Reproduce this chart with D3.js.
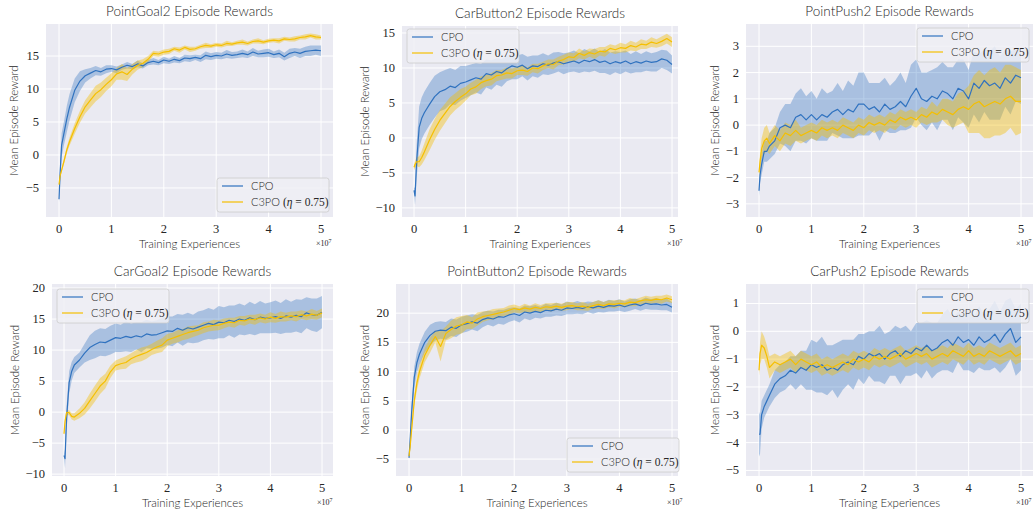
<!DOCTYPE html>
<head>
<meta charset="utf-8">
<title>Episode Rewards</title>
<script src="https://d3js.org/d3.v7.min.js"></script>
<style>
  body { margin: 0; background: #fff; }
  .title { font-family: Lato, sans-serif; font-weight: 300; font-size: 13.5px; fill: #262626; }
  .axlabel { font-family: Lato, sans-serif; font-weight: 300; font-size: 11.5px; fill: #262626; }
  .tick { font-family: "Liberation Serif", serif; font-size: 12.5px; fill: #262626; }
  .leg { font-family: Lato, sans-serif; font-weight: 300; font-size: 11px; fill: #262626; }
  .legm { font-family: "Liberation Serif", serif; font-size: 11.5px; fill: #262626; }
</style>
</head>
<body>
<script>

  // training experiences, in units of 1e7
  let X = [0,0.02,0.05,0.1,0.15,0.2,0.3,0.4,0.5,0.6,0.7,0.8,0.9,1.0,
    1.1,1.2,1.3,1.4,1.5,1.6,1.7,1.8,1.9,2.0,
    2.1,2.2,2.3,2.4,2.5,2.6,2.7,2.8,2.9,3.0,
    3.1,3.2,3.3,3.4,3.5,3.6,3.7,3.8,3.9,4.0,
    4.1,4.2,4.3,4.4,4.5,4.6,4.7,4.8,4.9,5.0];

  let series_names = ["CPO", "C3PO"];

  // PointGoal2
  let pointGoal2_cpo = [-6.7,-3.0,1.5,3.5,5.5,7.2,9.8,11.2,12.0,12.4,12.8,12.6,13.0,13.1,
    12.9,13.3,13.6,13.4,13.8,13.5,14.0,14.2,14.0,14.4,
    14.2,14.5,14.3,14.7,14.6,14.8,14.6,15.1,14.9,15.1,
    15.0,15.3,15.1,15.2,15.4,15.2,15.6,15.3,15.4,15.5,
    15.2,15.4,14.9,15.4,15.6,15.4,15.7,15.8,15.9,15.8];
  let pointGoal2_cpo_sd = [0.5,1.5,1.8,1.8,2.0,2.0,1.8,1.5,1.0,0.8,0.7,0.6,0.6,0.5,
    0.5,0.4,0.5,0.4,0.5,0.4,0.4,0.5,0.4,0.5,
    0.4,0.5,0.4,0.5,0.5,0.4,0.5,0.6,0.5,0.5,
    0.5,0.6,0.5,0.5,0.6,0.5,0.6,0.5,0.6,0.6,
    0.5,0.6,0.6,0.7,0.6,0.7,0.7,0.8,0.7,0.8];
  let pointGoal2_c3po = [-4.5,-3.2,-2.3,-0.8,0.8,2.0,4.0,5.8,7.3,8.3,9.3,9.9,10.7,11.4,
    12.3,12.6,12.2,13.0,13.6,13.9,14.5,15.4,15.3,15.6,
    15.7,16.1,15.9,16.3,16.0,16.1,16.4,16.6,16.5,16.7,
    16.6,16.9,16.8,17.0,17.1,16.9,17.2,17.3,17.1,17.3,
    17.4,17.3,17.6,17.5,17.6,17.8,17.9,18.1,17.9,17.8];
  let pointGoal2_c3po_sd = [0.3,0.3,0.3,0.4,0.5,0.6,0.8,0.9,1.0,1.1,1.2,1.1,1.0,1.0,
    0.9,1.2,1.0,0.8,0.7,0.6,0.5,0.4,0.4,0.4,
    0.4,0.3,0.4,0.3,0.4,0.3,0.3,0.4,0.3,0.3,
    0.3,0.4,0.3,0.3,0.4,0.3,0.3,0.4,0.3,0.3,
    0.3,0.4,0.3,0.3,0.4,0.3,0.4,0.3,0.4,0.3];

  // CarButton2
  let carButton2_cpo = [-7.5,-8.3,-3.5,1.5,2.8,3.6,4.8,5.9,6.6,6.9,7.4,7.2,7.8,8.0,
    8.3,8.6,8.4,9.2,9.0,9.5,9.3,9.9,10.3,10.1,
    10.4,9.9,10.3,10.2,10.6,10.4,10.7,10.9,10.6,10.8,
    11.0,10.7,11.1,10.9,11.2,10.8,11.0,10.6,10.9,10.7,
    11.0,10.6,10.9,10.7,11.0,10.8,10.9,11.3,11.1,10.5];
  let carButton2_cpo_sd = [0.3,1.3,2.5,3.0,3.0,3.0,3.0,3.0,2.8,2.8,2.6,2.5,2.5,2.3,
    2.2,2.1,2.2,2.0,2.1,1.9,2.0,1.8,1.9,1.7,
    1.6,1.7,1.5,1.6,1.5,1.4,1.5,1.4,1.5,1.4,
    1.5,1.4,1.6,1.5,1.6,1.5,1.7,1.6,1.5,1.6,
    1.5,1.4,1.5,1.3,1.4,1.3,1.4,1.3,1.4,1.3];
  let carButton2_c3po = [-4.2,-3.8,-3.4,-3.4,-2.8,-2.0,-0.3,1.2,2.5,3.5,4.5,5.2,5.8,6.3,
    7.0,7.3,7.9,8.2,8.4,8.9,9.0,9.3,9.2,9.6,
    9.7,9.5,10.0,9.9,10.3,10.6,10.5,11.0,11.2,11.6,
    11.5,12.1,11.8,12.2,12.0,12.4,12.3,12.8,12.6,12.9,
    12.8,13.2,13.0,13.4,13.3,13.7,13.5,13.8,14.2,13.7];
  let carButton2_c3po_sd = [0.4,0.5,0.6,0.8,1.0,1.2,1.5,1.5,1.5,1.4,1.3,1.2,1.2,1.0,
    0.9,1.0,0.9,0.8,0.9,0.8,0.7,0.8,0.7,0.6,
    0.7,0.6,0.6,0.7,0.6,0.6,0.7,0.6,0.7,0.6,
    0.6,0.7,0.6,0.6,0.7,0.6,0.7,0.6,0.6,0.7,
    0.6,0.7,0.6,0.7,0.6,0.7,0.6,0.7,0.7,0.7];

  // PointPush2
  let pointPush2_cpo = [-2.5,-1.9,-1.5,-1.0,-1.0,-0.8,-0.6,-0.1,0.0,-0.1,0.3,0.4,0.2,0.4,
    0.2,0.4,0.3,0.5,0.6,0.4,0.6,0.5,0.8,0.8,
    0.6,0.7,0.5,0.8,0.6,0.7,0.9,0.7,1.1,1.4,
    1.0,0.9,1.1,1.0,1.3,1.2,1.0,1.4,1.3,1.0,
    1.6,1.4,1.7,1.5,1.6,1.4,1.8,1.6,1.9,1.8];
  let pointPush2_cpo_sd = [0.2,0.3,0.4,0.4,0.4,0.5,0.5,0.6,0.8,0.9,0.9,1.0,0.9,0.9,
    0.8,1.0,0.9,0.8,1.0,0.9,1.1,1.0,1.2,1.2,
    1.0,0.9,1.1,1.0,0.9,1.0,1.1,0.9,1.2,1.1,
    1.0,1.1,1.0,1.2,1.1,1.0,1.2,1.1,1.2,1.1,
    1.2,1.3,1.2,1.3,1.4,1.2,1.1,1.2,1.0,1.0];
  let pointPush2_c3po = [-1.8,-1.4,-0.9,-0.6,-0.5,-0.7,-0.4,-0.6,-0.3,-0.4,-0.2,-0.4,-0.3,-0.2,
    -0.3,-0.1,-0.2,-0.1,-0.2,0.0,-0.1,-0.2,0.0,-0.1,
    0.1,0.0,0.1,0.0,0.2,0.1,0.3,0.2,0.3,0.2,
    0.4,0.3,0.5,0.4,0.6,0.5,0.4,0.6,0.7,0.6,
    0.8,0.9,0.7,0.8,0.9,0.8,1.0,1.1,0.9,0.9];
  let pointPush2_c3po_sd = [0.2,0.3,0.4,0.5,0.5,0.4,0.4,0.4,0.4,0.4,0.4,0.3,0.3,0.3,
    0.3,0.3,0.3,0.3,0.3,0.3,0.3,0.3,0.3,0.3,
    0.3,0.3,0.3,0.3,0.3,0.3,0.3,0.3,0.3,0.3,
    0.3,0.3,0.4,0.3,0.4,0.5,0.5,0.6,0.6,0.9,
    1.1,1.2,1.2,1.3,1.3,1.2,1.3,1.2,1.3,1.2];

  // CarGoal2
  let carGoal2_cpo = [-7.0,-7.5,-1.0,4.8,6.6,7.6,8.4,9.5,10.4,10.9,11.3,11.2,11.6,12.0,
    11.9,12.2,12.0,12.3,12.1,12.6,12.4,12.5,12.8,13.1,
    13.0,13.5,13.2,13.6,13.4,13.7,14.0,14.3,14.1,14.5,
    14.4,14.8,14.6,15.0,14.8,15.2,14.9,15.3,15.1,15.2,
    15.4,15.1,15.5,15.3,15.6,15.4,16.0,15.7,15.6,16.1];
  let carGoal2_cpo_sd = [0.3,1.5,2.0,1.8,1.5,1.3,1.2,1.5,2.0,2.2,2.2,2.2,2.3,2.3,
    2.2,2.4,2.3,2.2,2.4,2.3,2.2,2.3,2.4,2.3,
    2.4,2.3,2.5,2.4,2.3,2.5,2.4,2.5,2.4,2.6,
    2.5,2.4,2.6,2.5,2.4,2.6,2.5,2.6,2.4,2.5,
    2.6,2.5,2.7,2.5,2.6,2.7,2.5,2.6,2.7,2.6];
  let carGoal2_c3po = [-3.5,-1.5,-0.1,-0.1,-0.7,-0.8,-0.2,0.6,1.8,3.0,4.2,5.0,6.5,7.5,
    7.8,8.0,8.6,9.0,9.3,9.6,10.1,10.5,10.8,11.6,
    11.9,12.2,12.5,12.8,13.0,13.2,13.6,13.8,14.0,14.0,
    14.3,14.5,14.4,14.8,14.7,15.0,14.9,15.2,15.0,15.3,
    15.1,15.4,15.3,15.5,15.4,15.7,15.5,15.8,15.6,16.0];
  let carGoal2_c3po_sd = [0.3,0.5,0.4,0.4,0.5,0.6,0.8,1.0,1.2,1.3,1.3,1.2,1.0,0.8,
    0.9,1.0,0.9,1.0,1.1,1.0,0.9,1.0,1.1,1.0,
    0.9,1.0,0.9,1.0,0.9,0.8,0.9,0.8,0.9,0.8,
    0.8,0.7,0.8,0.7,0.8,0.7,0.8,0.7,0.7,0.8,
    0.7,0.8,0.7,0.7,0.8,0.7,0.7,0.8,0.7,0.7];

  // PointButton2
  let pointButton2_cpo = [-4.8,-2.0,3.0,9.0,11.5,13.0,15.0,16.2,16.9,17.1,17.0,17.6,17.4,18.0,
    18.2,18.5,18.3,18.9,19.2,19.0,19.4,19.3,19.7,19.9,
    19.6,20.2,20.0,20.3,20.1,20.5,20.4,20.7,20.5,20.9,
    20.8,21.0,20.8,21.1,20.9,21.2,21.0,21.3,21.2,21.4,
    21.1,21.4,21.6,21.3,21.7,21.5,21.6,21.4,21.5,21.0];
  let pointButton2_cpo_sd = [0.3,1.0,1.5,1.8,1.8,1.8,1.8,1.8,1.6,1.5,1.5,1.5,1.5,1.4,
    1.4,1.3,1.4,1.3,1.2,1.3,1.2,1.3,1.2,1.1,
    1.2,1.1,1.2,1.1,1.0,1.1,1.0,1.1,1.0,1.1,
    1.0,1.1,1.0,0.9,1.0,1.0,0.9,1.0,0.9,1.0,
    0.9,1.0,0.9,0.9,1.0,0.9,1.0,0.9,1.0,0.9];
  let pointButton2_c3po = [-4.5,-3.0,0.0,5.0,8.0,10.0,12.8,14.5,16.0,14.3,16.5,17.2,17.8,18.0,
    18.5,18.3,19.0,19.4,19.6,19.8,20.0,20.2,20.5,20.8,
    20.6,20.9,20.7,21.0,20.8,21.1,21.0,21.2,21.0,21.2,
    21.3,21.1,21.2,21.0,21.3,21.5,21.3,21.6,21.5,21.7,
    21.6,21.9,21.8,22.1,22.3,22.2,22.4,22.3,22.6,22.3];
  let pointButton2_c3po_sd = [0.3,0.6,0.8,1.0,1.2,1.2,1.2,1.3,1.0,2.6,1.2,1.5,1.5,1.5,
    1.2,1.0,1.1,0.9,0.8,0.9,0.8,0.7,0.8,0.7,
    0.6,0.7,0.6,0.7,0.6,0.6,0.7,0.6,0.6,0.7,
    0.6,0.6,0.7,0.6,0.6,0.7,0.6,0.6,0.7,0.6,
    0.6,0.7,0.6,0.6,0.7,0.6,0.6,0.7,0.6,0.6];

  // CarPush2
  let carPush2_cpo = [-3.7,-3.7,-3.0,-2.7,-2.5,-2.3,-1.9,-1.7,-1.6,-1.4,-1.5,-1.3,-1.4,-1.2,
    -1.3,-1.2,-1.4,-1.3,-1.4,-1.2,-1.1,-1.2,-0.9,-1.0,
    -0.8,-0.9,-0.8,-1.0,-0.8,-0.7,-0.9,-0.7,-0.8,-0.6,
    -0.7,-0.5,-0.7,-0.6,-0.4,-0.3,-0.5,-0.2,-0.4,-0.3,
    -0.5,-0.2,-0.4,-0.3,-0.1,-0.4,-0.1,0.1,-0.4,-0.2];
  let carPush2_cpo_sd = [0.8,0.7,0.5,0.4,0.4,0.4,0.5,0.5,0.5,0.5,0.6,0.6,0.7,0.9,
    0.9,1.0,0.9,0.8,1.0,0.9,0.8,0.9,0.8,0.9,
    0.8,0.9,1.0,0.9,0.8,0.9,1.0,0.9,0.8,0.9,
    1.0,0.9,1.0,0.9,1.0,1.1,1.0,0.9,1.0,1.1,
    1.0,1.1,1.0,1.1,1.2,1.1,1.2,1.1,1.2,1.2];
  let carPush2_c3po = [-1.4,-0.8,-0.5,-0.6,-0.9,-1.3,-1.1,-1.2,-1.1,-1.0,-1.2,-1.0,-1.1,-1.2,
    -1.1,-1.3,-1.2,-1.3,-1.2,-1.1,-1.2,-1.0,-1.1,-1.0,
    -1.1,-0.9,-1.0,-0.9,-1.0,-0.9,-0.8,-1.0,-0.9,-0.8,
    -0.9,-0.8,-1.0,-0.9,-0.8,-0.9,-0.7,-0.8,-0.9,-0.7,
    -0.9,-0.8,-0.9,-0.7,-0.8,-0.9,-0.8,-0.7,-0.9,-0.8];
  let carPush2_c3po_sd = [0.2,0.4,0.5,0.4,0.4,0.4,0.3,0.3,0.3,0.3,0.3,0.3,0.3,0.3,
    0.3,0.3,0.3,0.3,0.3,0.3,0.3,0.3,0.3,0.3,
    0.3,0.3,0.3,0.3,0.3,0.3,0.3,0.3,0.3,0.3,
    0.3,0.3,0.3,0.3,0.3,0.3,0.3,0.3,0.3,0.3,
    0.3,0.3,0.3,0.3,0.3,0.3,0.3,0.3,0.3,0.3];

  let x_ticks = [0,1,2,3,4,5];

  // panel layout (pixels), one per subplot
  let panels = [
    {title:"PointGoal2 Episode Rewards", left:46, right:333, top:24, bottom:217, x0:59, x5:321,
      ydom:[-9.4,19.85], yticks:[-5,0,5,10,15], ylab:14, leg:[217,178],
      cpo:pointGoal2_cpo, cpo_sd:pointGoal2_cpo_sd, c3po:pointGoal2_c3po, c3po_sd:pointGoal2_c3po_sd},
    {title:"CarButton2 Episode Rewards", left:402, right:678, top:26, bottom:217, x0:414, x5:672,
      ydom:[-11.3,16], yticks:[-10,-5,0,5,10,15], ylab:365, leg:[407,29],
      cpo:carButton2_cpo, cpo_sd:carButton2_cpo_sd, c3po:carButton2_c3po, c3po_sd:carButton2_c3po_sd},
    {title:"PointPush2 Episode Rewards", left:746, right:1033, top:24, bottom:217, x0:759, x5:1021,
      ydom:[-3.5,3.85], yticks:[-3,-2,-1,0,1,2,3], ylab:715, leg:[917,28],
      cpo:pointPush2_cpo, cpo_sd:pointPush2_cpo_sd, c3po:pointPush2_c3po, c3po_sd:pointPush2_c3po_sd},
    {title:"CarGoal2 Episode Rewards", left:52, right:333, top:284, bottom:476, x0:64, x5:322,
      ydom:[-10.3,20.65], yticks:[-10,-5,0,5,10,15,20], ylab:15, leg:[57,289],
      cpo:carGoal2_cpo, cpo_sd:carGoal2_cpo_sd, c3po:carGoal2_c3po, c3po_sd:carGoal2_c3po_sd},
    {title:"PointButton2 Episode Rewards", left:396, right:678, top:284, bottom:476, x0:409, x5:672,
      ydom:[-7.9,25], yticks:[-5,0,5,10,15,20], ylab:365, leg:[567,438],
      cpo:pointButton2_cpo, cpo_sd:pointButton2_cpo_sd, c3po:pointButton2_c3po, c3po_sd:pointButton2_c3po_sd},
    {title:"CarPush2 Episode Rewards", left:746, right:1033, top:284, bottom:476, x0:759, x5:1021,
      ydom:[-5.2,1.7], yticks:[-5,-4,-3,-2,-1,0,1], ylab:715, leg:[917,289],
      cpo:carPush2_cpo, cpo_sd:carPush2_cpo_sd, c3po:carPush2_c3po, c3po_sd:carPush2_c3po_sd}
  ];

  let colors = {CPO:"#3072bf", C3PO:"#f5bf00"};
  let band_opacity = {CPO:0.35, C3PO:0.4};

  let svg = d3.select("body").append("svg")
    .attr("width", 1033)
    .attr("height", 513);

  let fmt = function(v){ return v < 0 ? "\u2212" + Math.abs(v) : "" + v; };

  panels.forEach(function(p, pi){
    let g = svg.append("g");
    let x = d3.scaleLinear().domain([0,5]).range([p.x0, p.x5]);
    let y = d3.scaleLinear().domain(p.ydom).range([p.bottom, p.top]);

    let clipId = "clip" + pi;
    g.append("clipPath").attr("id", clipId)
      .append("rect")
      .attr("x", p.left).attr("y", p.top)
      .attr("width", p.right - p.left).attr("height", p.bottom - p.top);

    g.append("rect")
      .attr("x", p.left).attr("y", p.top)
      .attr("width", p.right - p.left).attr("height", p.bottom - p.top)
      .style("fill", "#eaeaf2");

    // grid
    g.selectAll(".vg").data(x_ticks).enter().append("line")
      .attr("x1", d => x(d)).attr("x2", d => x(d))
      .attr("y1", p.top).attr("y2", p.bottom)
      .style("stroke", "#fff").style("stroke-width", 1);
    g.selectAll(".hg").data(p.yticks).enter().append("line")
      .attr("x1", p.left).attr("x2", p.right)
      .attr("y1", d => y(d)).attr("y2", d => y(d))
      .style("stroke", "#fff").style("stroke-width", 1);

    // tick labels
    g.selectAll(".xt").data(x_ticks).enter().append("text")
      .attr("class", "tick")
      .attr("x", d => x(d)).attr("y", p.bottom + 16)
      .attr("text-anchor", "middle")
      .text(d => d);
    g.selectAll(".yt").data(p.yticks).enter().append("text")
      .attr("class", "tick")
      .attr("x", p.left - 7).attr("y", d => y(d) + 4)
      .attr("text-anchor", "end")
      .text(d => fmt(d));

    // x10^7
    let sci = g.append("text")
      .attr("class", "tick")
      .style("font-size", "8px")
      .attr("x", p.x5 - 5).attr("y", p.bottom + 29);
    sci.append("tspan").text("\u00d710");
    sci.append("tspan").attr("dy", -3).style("font-size", "6px").text("7");

    // labels
    g.append("text").attr("class", "title")
      .attr("x", (p.left + p.right) / 2).attr("y", p.top - 8)
      .attr("text-anchor", "middle")
      .text(p.title);
    g.append("text").attr("class", "axlabel")
      .attr("x", (p.left + p.right) / 2).attr("y", p.bottom + 31)
      .attr("text-anchor", "middle")
      .text("Training Experiences");
    g.append("text").attr("class", "axlabel")
      .attr("transform", "translate(" + (p.ylab + 4) + "," + ((p.top + p.bottom) / 2) + ") rotate(-90)")
      .attr("text-anchor", "middle")
      .text("Mean Episode Reward");

    // bands and lines
    let plot = g.append("g").attr("clip-path", "url(#" + clipId + ")");
    let sets = [
      {name:"CPO", mean:p.cpo, sd:p.cpo_sd},
      {name:"C3PO", mean:p.c3po, sd:p.c3po_sd}
    ];
    sets.forEach(function(s){
      let rows = X.map((xv, i) => ({x:xv, m:s.mean[i], s:s.sd[i]}));
      let area = d3.area()
        .x(d => x(d.x))
        .y0(d => y(d.m - d.s))
        .y1(d => y(d.m + d.s));
      plot.append("path")
        .datum(rows)
        .attr("d", area)
        .style("fill", colors[s.name])
        .style("opacity", band_opacity[s.name]);
    });
    sets.forEach(function(s){
      let rows = X.map((xv, i) => ({x:xv, m:s.mean[i]}));
      let line = d3.line().x(d => x(d.x)).y(d => y(d.m));
      plot.append("path")
        .datum(rows)
        .attr("d", line)
        .style("fill", "none")
        .style("stroke", colors[s.name])
        .style("stroke-width", 1.2)
        .style("stroke-linejoin", "round");
    });

    // legend
    let lg = g.append("g").attr("transform", "translate(" + p.leg[0] + "," + p.leg[1] + ")");
    lg.append("rect")
      .attr("width", 112).attr("height", 34)
      .attr("rx", 2.5)
      .style("fill", "#eeeef4").style("fill-opacity", 0.85)
      .style("stroke", "#cccccc").style("stroke-width", 0.8);
    series_names.forEach(function(n, i){
      let yy = 8 + i * 16;
      lg.append("line")
        .attr("x1", 5).attr("x2", 26).attr("y1", yy).attr("y2", yy)
        .style("stroke", colors[n]).style("stroke-width", 1.2);
      let t = lg.append("text").attr("class", "leg").attr("x", 34).attr("y", yy + 4);
      if (n === "CPO") {
        t.text("CPO");
      } else {
        t.append("tspan").text("C3PO ");
        t.append("tspan").attr("class", "legm").text("(");
        t.append("tspan").attr("class", "legm").style("font-style", "italic").text("\u03b7");
        t.append("tspan").attr("class", "legm").text(" = 0.75)");
      }
    });
  });

</script>
</body>
